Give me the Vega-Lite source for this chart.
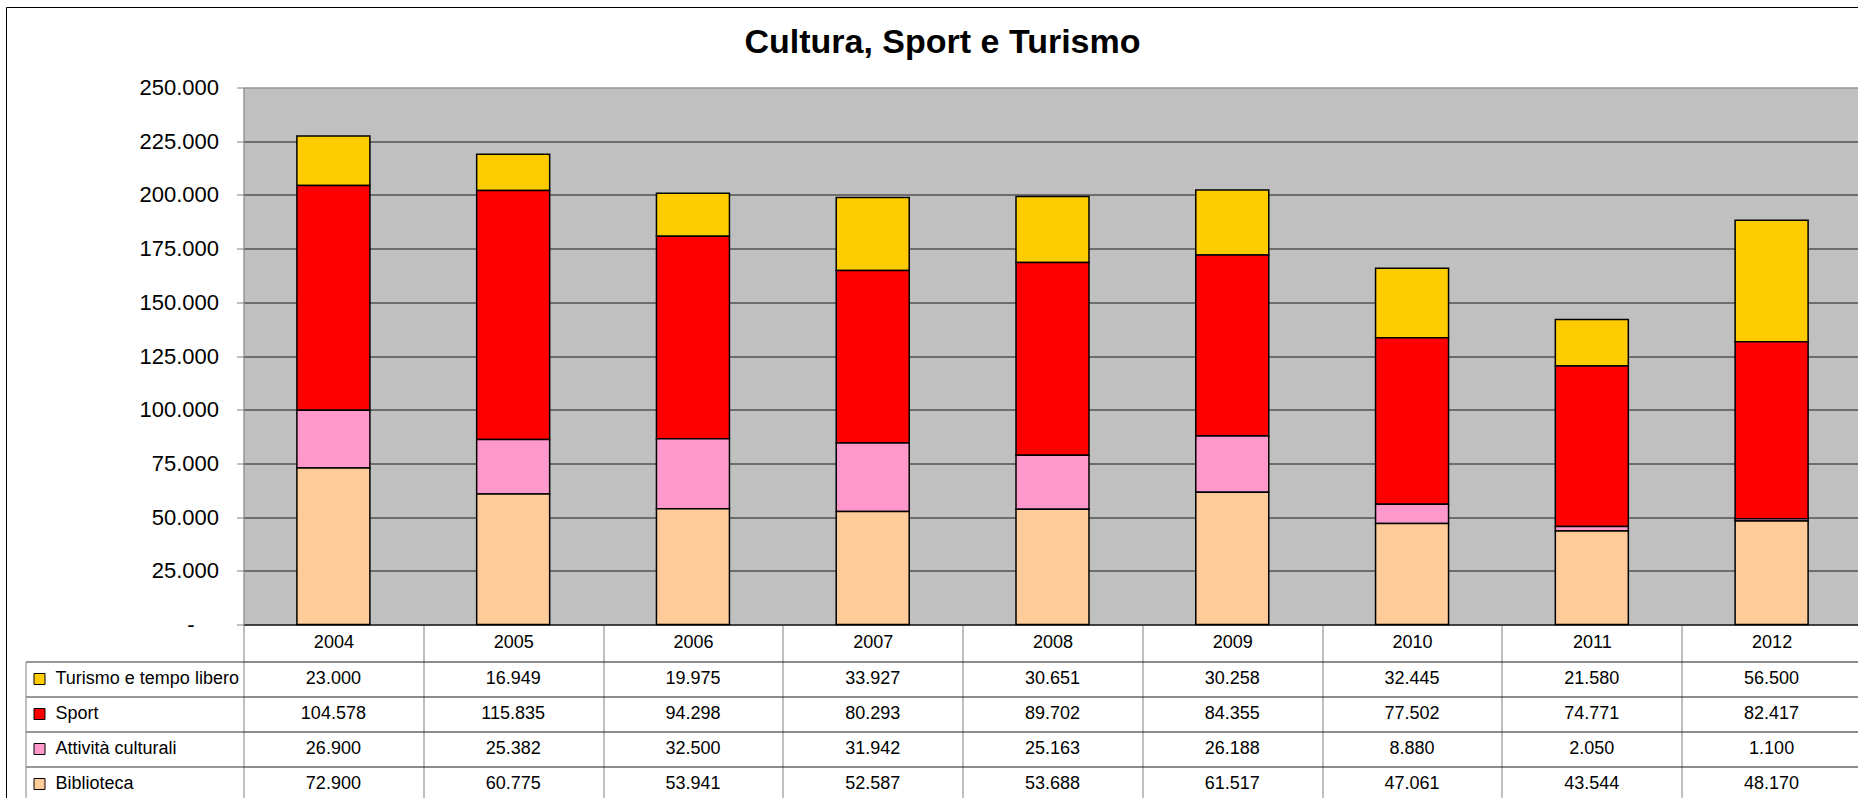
{
  "$schema": "https://vega.github.io/schema/vega-lite/v6.json",
  "background": "white",
  "padding": {"left": 6.5, "top": 7.5, "right": -11.5, "bottom": -6.5},
  "config": {
    "locale": {"number": {"decimal": ",", "thousands": ".", "grouping": [3], "currency": ["€", ""]}},
    "font": "Liberation Sans",
    "axis": {"labelFont": "Liberation Sans", "titleFont": "Liberation Sans", "labelColor": "black"},
    "legend": {"labelFont": "Liberation Sans"}
  },
  "data": {"values": [
    {"anno": "2004", "serie": "Turismo e tempo libero", "valore": 23000},
    {"anno": "2004", "serie": "Sport", "valore": 104578},
    {"anno": "2004", "serie": "Attività culturali", "valore": 26900},
    {"anno": "2004", "serie": "Biblioteca", "valore": 72900},
    {"anno": "2005", "serie": "Turismo e tempo libero", "valore": 16949},
    {"anno": "2005", "serie": "Sport", "valore": 115835},
    {"anno": "2005", "serie": "Attività culturali", "valore": 25382},
    {"anno": "2005", "serie": "Biblioteca", "valore": 60775},
    {"anno": "2006", "serie": "Turismo e tempo libero", "valore": 19975},
    {"anno": "2006", "serie": "Sport", "valore": 94298},
    {"anno": "2006", "serie": "Attività culturali", "valore": 32500},
    {"anno": "2006", "serie": "Biblioteca", "valore": 53941},
    {"anno": "2007", "serie": "Turismo e tempo libero", "valore": 33927},
    {"anno": "2007", "serie": "Sport", "valore": 80293},
    {"anno": "2007", "serie": "Attività culturali", "valore": 31942},
    {"anno": "2007", "serie": "Biblioteca", "valore": 52587},
    {"anno": "2008", "serie": "Turismo e tempo libero", "valore": 30651},
    {"anno": "2008", "serie": "Sport", "valore": 89702},
    {"anno": "2008", "serie": "Attività culturali", "valore": 25163},
    {"anno": "2008", "serie": "Biblioteca", "valore": 53688},
    {"anno": "2009", "serie": "Turismo e tempo libero", "valore": 30258},
    {"anno": "2009", "serie": "Sport", "valore": 84355},
    {"anno": "2009", "serie": "Attività culturali", "valore": 26188},
    {"anno": "2009", "serie": "Biblioteca", "valore": 61517},
    {"anno": "2010", "serie": "Turismo e tempo libero", "valore": 32445},
    {"anno": "2010", "serie": "Sport", "valore": 77502},
    {"anno": "2010", "serie": "Attività culturali", "valore": 8880},
    {"anno": "2010", "serie": "Biblioteca", "valore": 47061},
    {"anno": "2011", "serie": "Turismo e tempo libero", "valore": 21580},
    {"anno": "2011", "serie": "Sport", "valore": 74771},
    {"anno": "2011", "serie": "Attività culturali", "valore": 2050},
    {"anno": "2011", "serie": "Biblioteca", "valore": 43544},
    {"anno": "2012", "serie": "Turismo e tempo libero", "valore": 56500},
    {"anno": "2012", "serie": "Sport", "valore": 82417},
    {"anno": "2012", "serie": "Attività culturali", "valore": 1100},
    {"anno": "2012", "serie": "Biblioteca", "valore": 48170}
  ]},
  "spacing": 37,
  "bounds": "flush",
  "resolve": {"scale": {"color": "independent", "x": "independent", "y": "independent"}, "legend": {"color": "independent"}},
  "vconcat": [
    {
      "width": 1618,
      "height": 537,
      "title": {"text": "Cultura, Sport e Turismo", "font": "Liberation Sans", "fontSize": 34, "fontWeight": "bold", "color": "black", "anchor": "middle", "dx": -110, "offset": -52},
      "view": {"fill": "#C0C0C0", "stroke": null},
      "transform": [
        {"calculate": "indexof(['Biblioteca', 'Attività culturali', 'Sport', 'Turismo e tempo libero'], datum.serie)", "as": "ordine"}
      ],
      "resolve": {"scale": {"color": "independent"}, "legend": {"color": "independent"}},
      "layer": [
        {
          "mark": {"type": "bar", "stroke": "black", "strokeWidth": 1.5, "width": {"band": 0.406}},
          "encoding": {
            "x": {"field": "anno", "type": "nominal", "scale": {"paddingInner": 0, "paddingOuter": 0},
              "axis": {"title": null, "labelAngle": 0, "labelFontSize": 18, "labelBaseline": "middle", "labelPadding": -19, "ticks": true, "tickSize": 37, "tickColor": "#808080", "tickBand": "extent", "domain": true, "domainColor": "black", "grid": false}},
            "y": {"field": "valore", "type": "quantitative", "stack": "zero", "scale": {"domain": [0, 250000], "nice": false},
              "axis": {"title": null, "values": [0, 25000, 50000, 75000, 100000, 125000, 150000, 175000, 200000, 225000, 250000], "format": ",d", "labelExpr": "datum.value === 0 ? '-\u2007\u2007\u200b' : datum.label", "labelFontSize": 22, "labelPadding": 18, "tickSize": 7, "tickColor": "#808080", "domainColor": "#808080", "grid": true, "gridColor": {"condition": {"test": "datum.value === 250000", "value": "#808080"}, "value": "#1a1a1a"}, "gridOpacity": 1}},
            "color": {"field": "serie", "type": "nominal",
              "scale": {"domain": ["Biblioteca", "Attività culturali", "Sport", "Turismo e tempo libero"], "range": ["#FFCC99", "#FF99CC", "#FF0000", "#FFCC00"]}, "legend": null},
            "order": {"field": "ordine", "type": "quantitative", "sort": "ascending"}
          }
        },
        {
          "mark": {"type": "square", "opacity": 0},
          "encoding": {
            "color": {"field": "valore", "type": "quantitative",
              "scale": {"range": ["transparent", "transparent"]},
              "legend": {"type": "gradient", "orient": "none", "direction": "vertical", "legendX": -237, "legendY": -80, "title": null, "padding": 0,
                "gradientLength": 796, "gradientThickness": 1862, "gradientStrokeColor": "black", "gradientStrokeWidth": 1,
                "labelExpr": "''", "labelOpacity": 0, "labelOffset": 0}}
          }
        }
      ]
    },
    {
      "width": 1618,
      "height": 140,
      "view": {"stroke": null},
      "encoding": {
        "x": {"field": "anno", "type": "nominal", "scale": {"paddingInner": 0, "paddingOuter": 0},
          "axis": {"orient": "top", "title": null, "labels": false, "ticks": false, "domain": false, "grid": true, "gridColor": "#808080", "gridOpacity": 1, "tickBand": "extent"}},
        "y": {"field": "serie", "type": "nominal", "sort": ["Turismo e tempo libero", "Sport", "Attività culturali", "Biblioteca"], "scale": {"paddingInner": 0, "paddingOuter": 0},
          "axis": {"title": null, "labels": false, "offset": 218, "ticks": true, "tickSize": -218, "tickColor": "#333333", "tickBand": "extent", "domain": true, "domainColor": "#808080", "grid": true, "gridColor": "#1a1a1a", "gridOpacity": 1}}
      },
      "layer": [
        {"mark": {"type": "text", "fontSize": 18, "color": "black", "baseline": "middle", "font": "Liberation Sans"},
          "encoding": {"text": {"field": "valore", "type": "quantitative", "format": ",d"}}},
        {"mark": {"type": "square", "opacity": 0},
          "encoding": {"color": {"field": "serie", "type": "nominal",
            "scale": {"domain": ["Turismo e tempo libero", "Sport", "Attività culturali", "Biblioteca"], "range": ["#FFCC00", "#FF0000", "#FF99CC", "#FFCC99"]},
            "legend": {"orient": "none", "legendX": -213, "legendY": 8.5, "title": null, "padding": 0, "symbolType": "square", "symbolSize": 121, "symbolStrokeColor": "black", "symbolStrokeWidth": 1, "symbolOpacity": 1, "labelFontSize": 18, "labelColor": "black", "labelOffset": 7, "rowPadding": 17, "labelLimit": 400}}}}
      ]
    }
  ]
}
